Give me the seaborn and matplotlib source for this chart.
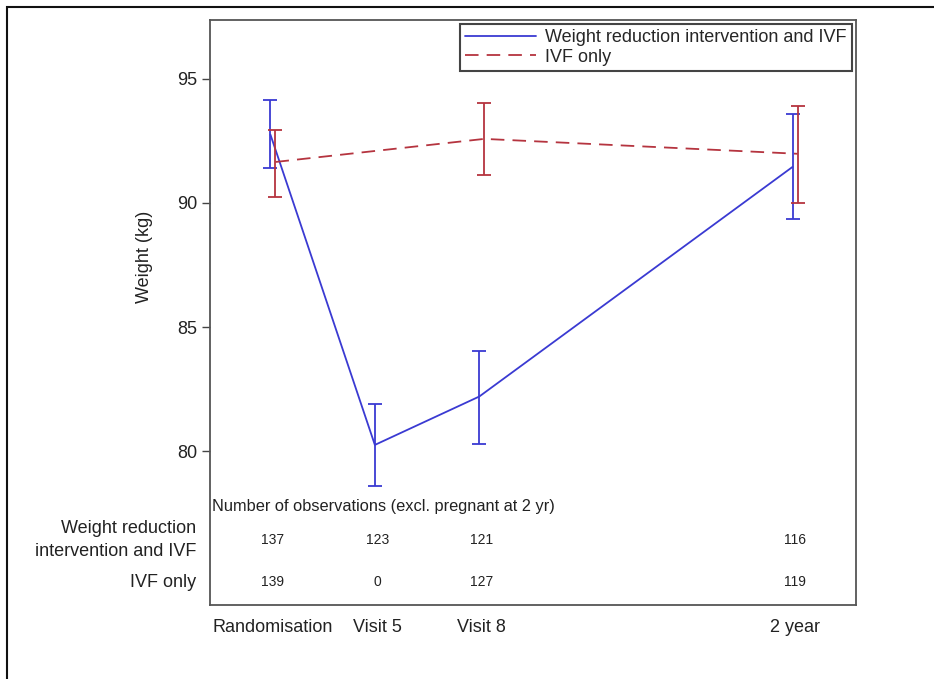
import numpy as np
import pandas as pd
import matplotlib
matplotlib.use("Agg")
import matplotlib.pyplot as plt
import seaborn as sns
from matplotlib.patches import Rectangle

# ---------------- data ----------------
visits = ["Randomisation", "Visit 5", "Visit 8", "2 year"]
visit_time = [0, 1, 2, 5]
groups = ["Weight reduction intervention and IVF", "IVF only"]

wr_mean = [92.75, 80.25, 82.2, 91.45]
wr_lo = [91.4, 78.6, 80.3, 89.35]
wr_hi = [94.15, 81.9, 84.05, 93.6]

ivf_mean = [91.65, np.nan, 92.58, 91.98]
ivf_lo = [90.25, np.nan, 91.13, 90.0]
ivf_hi = [92.95, np.nan, 94.02, 93.92]

n_wr = [137, 123, 121, 116]
n_ivf = [139, 0, 127, 119]
row_labels = ["Weight reduction\nintervention and IVF", "IVF only"]
table_title = "Number of observations (excl. pregnant at 2 yr)"

# ---------------- style ----------------
sns.set_theme(style="white")
plt.rcParams["font.family"] = ["Liberation Sans", "DejaVu Sans"]

colors = {groups[0]: "#3A3AD2", groups[1]: "#B5343F"}
dash_map = {groups[0]: "", groups[1]: (7.5, 4.5)}
offsets = {groups[0]: -0.024, groups[1]: 0.024}
lw = 1.3

frames = []
for g, m, lo, hi in [(groups[0], wr_mean, wr_lo, wr_hi),
                     (groups[1], ivf_mean, ivf_lo, ivf_hi)]:
    frames.append(pd.DataFrame({
        "group": g,
        "time": visit_time,
        "mean": m,
        "lo": lo,
        "hi": hi,
    }))
df = pd.concat(frames, ignore_index=True)
df["x"] = df["time"] + df["group"].map(offsets)
df = df.dropna(subset=["mean"])

fig = plt.figure(figsize=(9.34, 6.79), dpi=100)
ax = fig.add_axes([210 / 934, 1 - 605 / 679, 646 / 934, 585 / 679])

sns.lineplot(data=df, x="x", y="mean", hue="group", style="group",
             palette=colors, dashes=dash_map, hue_order=groups,
             style_order=groups, linewidth=lw, estimator=None,
             errorbar=None, ax=ax)

for g in groups:
    sub = df[df["group"] == g]
    ax.errorbar(sub["x"], sub["mean"],
                yerr=[sub["mean"] - sub["lo"], sub["hi"] - sub["mean"]],
                fmt="none", ecolor=colors[g], elinewidth=lw,
                capsize=5, capthick=lw, zorder=3)

ax.set_xlim(-0.603, 5.584)
ax.set_ylim(73.8, 97.37)
ax.set_xticks(visit_time)
ax.set_xticklabels(visits, fontsize=13)
ax.set_yticks([80, 85, 90, 95])
ax.set_yticklabels(["80", "85", "90", "95"], fontsize=13)
ax.tick_params(axis="x", length=0, pad=10, colors="#222222")
ax.tick_params(axis="y", length=6, width=1.0, direction="out", pad=3,
               colors="#222222", left=True)
ax.tick_params(axis="y", color="#444444")
ax.set_xlabel("")
ax.set_ylabel("Weight (kg)", fontsize=13, color="#222222")
ax.yaxis.set_label_coords(-0.088, 0.595)
for s in ax.spines.values():
    s.set_visible(True)
    s.set_color("#555555")
    s.set_linewidth(1.3)

# table of observations inside the axes
ax.text(0.003, 0.169, table_title, transform=ax.transAxes, ha="left",
        va="center", fontsize=11.8, color="#222222")
row_y = [0.111, 0.039]
for counts, yy, lab in [(n_wr, row_y[0], row_labels[0]),
                        (n_ivf, row_y[1], row_labels[1])]:
    for t, c in zip(visit_time, counts):
        ax.text(t, yy, str(c), transform=ax.get_xaxis_transform(),
                ha="center", va="center", fontsize=10, color="#222222")
    ax.text(-0.0217, yy, lab, transform=ax.transAxes, ha="right",
            va="center", fontsize=13, color="#222222", linespacing=1.4)

# legend
handles, labels = ax.get_legend_handles_labels()
leg = ax.legend(handles, labels, loc="upper right", bbox_to_anchor=(1, 1),
                borderaxespad=0.2, frameon=True, fancybox=False,
                edgecolor="#444444", fontsize=13, handlelength=3.9,
                handletextpad=0.55, labelspacing=0.15, borderpad=0.3,
                framealpha=1)
leg.get_frame().set_linewidth(1.5)
for h in leg.get_lines():
    h.set_linewidth(lw)

# outer border of the figure
fig.patches.append(Rectangle((7 / 934, -0.05), 1.2, 1 - 7 / 679 + 0.05,
                             transform=fig.transFigure, fill=False,
                             edgecolor="#111111", linewidth=1.5))

fig.savefig("out.png", dpi=100)
